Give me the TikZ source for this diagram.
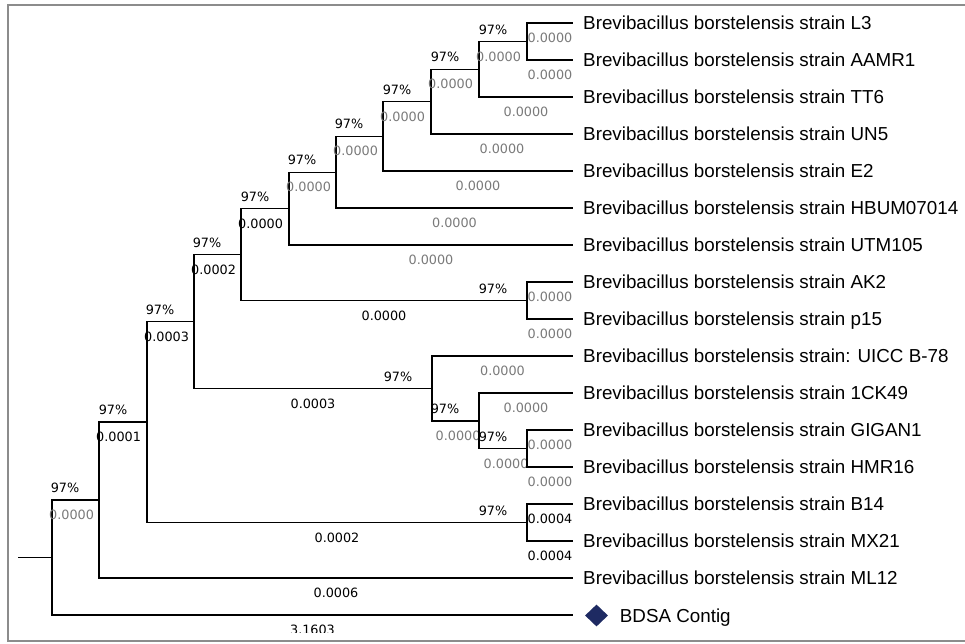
\documentclass[tikz,border=0pt]{standalone}
\usepackage{fontspec}
\setmainfont{Liberation Sans}
\newfontfamily\numfont{DejaVu Sans}
\usepackage{xcolor}
\usepackage{tikz}
\usetikzlibrary{shapes.geometric}
\usetikzlibrary{positioning}
\definecolor{cinza}{HTML}{7A7A7A}
\definecolor{azul}{HTML}{1E2A62}
\tikzset{
  ramo/.style={line width=1.4pt},
  moldura/.style={line width=1.6pt, draw=black!45},
  folha/.style={anchor=west, inner xsep=10pt, inner ysep=0pt, text height=13.4pt, text depth=0pt, font=\fontsize{18.8}{20}\selectfont},
  suporte/.style={anchor=base east, inner sep=0pt, xshift=-19pt, yshift=7.4pt, font=\numfont\fontsize{12.8}{14}\selectfont},
  valor/.style={anchor=base, inner sep=0pt, yshift=-19.6pt, text=#1, font=\numfont\fontsize{12.8}{14}\selectfont},
  valor/.default=black,
  valesq/.style={valor=#1, anchor=base west, xshift=-3.5pt},
  valesq/.default=black,
}

\begin{document}
\begin{tikzpicture}[x=1pt, y=-1pt,
    losango/.style={diamond, fill=azul, draw=none, minimum width=23pt, minimum height=22pt, inner sep=0pt},
  ]
  \useasboundingbox (0,0) rectangle (965,643);

  \coordinate (base) at (18,557.5);
  \coordinate (raiz) at (52,557.5);
  \coordinate (n1) at (99,500);
  \coordinate (n2) at (147,422);
  \coordinate (n3) at (194,321.4);
  \coordinate (n4) at (241,254.5);
  \coordinate (n5) at (289,208.6);
  \coordinate (n6) at (336,172.2);
  \coordinate (n7) at (383,136.3);
  \coordinate (n8) at (431,101.6);
  \coordinate (n9) at (479,69.3);
  \coordinate (n10) at (527,41.5);
  \coordinate (nak) at (527,300.5);
  \coordinate (nu) at (432,388.4);
  \coordinate (nck) at (479,420.8);
  \coordinate (ngh) at (527,448.5);
  \coordinate (nbm) at (527,522.5);
  \coordinate (ponta) at (573,615);

  \node[folha] (l3) at (573,23) {Brevibacillus borstelensis strain L3};
  \node[folha] (aamr1) at (573,60) {Brevibacillus borstelensis strain AAMR1};
  \node[folha] (tt6) at (573,97) {Brevibacillus borstelensis strain TT6};
  \node[folha] (un5) at (573,134) {Brevibacillus borstelensis strain UN5};
  \node[folha] (e2) at (573,171) {Brevibacillus borstelensis strain E2};
  \node[folha] (hbum) at (573,208) {Brevibacillus borstelensis strain HBUM07014};
  \node[folha] (utm) at (573,245) {Brevibacillus borstelensis strain UTM105};
  \node[folha] (ak2) at (573,282) {Brevibacillus borstelensis strain AK2};
  \node[folha] (p15) at (573,319) {Brevibacillus borstelensis strain p15};
  \node[folha] (uicc) at (573,356) {Brevibacillus borstelensis strain: UICC B-78};
  \node[folha] (ck49) at (573,393) {Brevibacillus borstelensis strain 1CK49};
  \node[folha] (gigan) at (573,430) {Brevibacillus borstelensis strain GIGAN1};
  \node[folha] (hmr) at (573,467) {Brevibacillus borstelensis strain HMR16};
  \node[folha] (b14) at (573,504) {Brevibacillus borstelensis strain B14};
  \node[folha] (mx21) at (573,541) {Brevibacillus borstelensis strain MX21};
  \node[folha] (ml12) at (573,578) {Brevibacillus borstelensis strain ML12};
  \node[losango] (dmd) at (596.5,615.5) {};
  \node[folha, inner xsep=0pt, right=11.5pt of dmd] (bdsa) {BDSA Contig};

  \draw[ramo] (base) -- (raiz);
  \draw[ramo] (raiz) |- (n1) node[pos=0.5, valesq=cinza] (v1) {0.0000} node[pos=1, suporte] (s1) {97\%};
  \draw[ramo] (n1) |- (n2) node[pos=0.5, valesq] (v2) {0.0001} node[pos=1, suporte] (s2) {97\%};
  \draw[ramo] (n1) |- (ml12.west) node[pos=0.75, valor] (vml12) {0.0006};
  \draw[ramo] (n2) |- (n3) node[pos=0.5, valesq] (v3) {0.0003} node[pos=1, suporte] (s3) {97\%};
  \draw[ramo] (n2) |- (nbm) node[pos=0.75, valor] (vbm) {0.0002} node[pos=1, suporte] (sbm) {97\%};
  \draw[ramo] (n3) |- (n4) node[pos=0.5, valesq] (v4) {0.0002} node[pos=1, suporte] (s4) {97\%};
  \draw[ramo] (n3) |- (nu) node[pos=0.75, valor] (vu) {0.0003} node[pos=1, suporte] (su) {97\%};
  \draw[ramo] (n4) |- (n5) node[pos=0.5, valesq] (v5) {0.0000} node[pos=1, suporte] (s5) {97\%};
  \draw[ramo] (n4) |- (nak) node[pos=0.75, valor] (vak) {0.0000} node[pos=1, suporte] (sak) {97\%};
  \draw[ramo] (n5) |- (n6) node[pos=0.5, valesq=cinza] (v6) {0.0000} node[pos=1, suporte] (s6) {97\%};
  \draw[ramo] (n5) |- (utm.west) node[pos=0.75, valor=cinza] (vutm) {0.0000};
  \draw[ramo] (n6) |- (n7) node[pos=0.5, valesq=cinza] (v7) {0.0000} node[pos=1, suporte] (s7) {97\%};
  \draw[ramo] (n6) |- (hbum.west) node[pos=0.75, valor=cinza] (vhbum) {0.0000};
  \draw[ramo] (n7) |- (n8) node[pos=0.5, valesq=cinza] (v8) {0.0000} node[pos=1, suporte] (s8) {97\%};
  \draw[ramo] (n7) |- (e2.west) node[pos=0.75, valor=cinza] (ve2) {0.0000};
  \draw[ramo] (n8) |- (n9) node[pos=0.5, valesq=cinza] (v9) {0.0000} node[pos=1, suporte] (s9) {97\%};
  \draw[ramo] (n8) |- (un5.west) node[pos=0.75, valor=cinza] (vun5) {0.0000};
  \draw[ramo] (n9) |- (n10) node[pos=0.5, valesq=cinza] (v10) {0.0000} node[pos=1, suporte] (s10) {97\%};
  \draw[ramo] (n9) |- (tt6.west) node[pos=0.75, valor=cinza] (vtt6) {0.0000};
  \draw[ramo] (n10) |- (l3.west) node[pos=0.75, valor=cinza] (vl3) {0.0000};
  \draw[ramo] (n10) |- (aamr1.west) node[pos=0.75, valor=cinza] (vaamr1) {0.0000};
  \draw[ramo] (nak) |- (ak2.west) node[pos=0.75, valor=cinza] (vak2) {0.0000};
  \draw[ramo] (nak) |- (p15.west) node[pos=0.75, valor=cinza] (vp15) {0.0000};
  \draw[ramo] (nu) |- (uicc.west) node[pos=0.75, valor=cinza] (vuicc) {0.0000};
  \draw[ramo] (nu) |- (nck) node[pos=0.5, valesq=cinza, xshift=6.5pt] (vck) {0.0000} node[pos=1, suporte] (sck) {97\%};
  \draw[ramo] (nck) |- (ck49.west) node[pos=0.75, valor=cinza] (vck49) {0.0000};
  \draw[ramo] (nck) |- (ngh) node[pos=0.5, valesq=cinza, xshift=7.5pt] (vgh) {0.0000} node[pos=1, suporte] (sgh) {97\%};
  \draw[ramo] (ngh) |- (gigan.west) node[pos=0.75, valor=cinza] (vgigan) {0.0000};
  \draw[ramo] (ngh) |- (hmr.west) node[pos=0.75, valor=cinza] (vhmr) {0.0000};
  \draw[ramo] (nbm) |- (b14.west) node[pos=0.75, valor] (vb14) {0.0004};
  \draw[ramo] (nbm) |- (mx21.west) node[pos=0.75, valor] (vmx21) {0.0004};
  \begin{scope}
    \clip (0,0) rectangle (965,632.5);
    \draw[ramo] (raiz) |- (ponta) node[pos=0.75, valor] (vbdsa) {3.1603};
  \end{scope}

  \draw[moldura] (965,5) -| (8,641) -- (965,641);
\end{tikzpicture}
\end{document}
